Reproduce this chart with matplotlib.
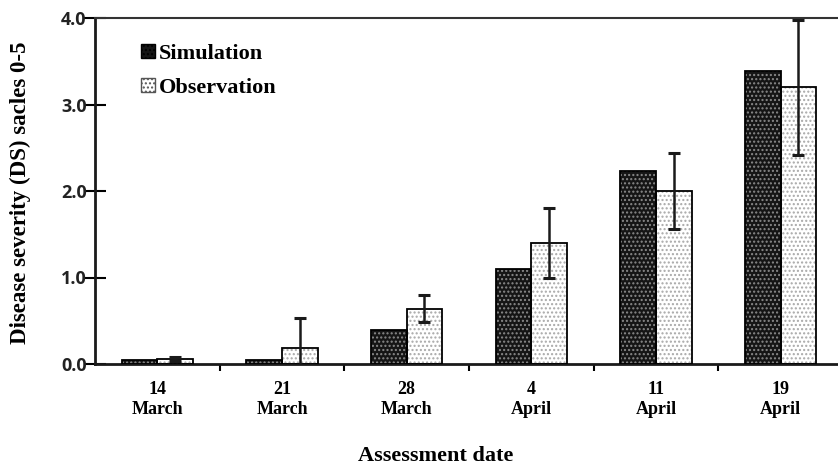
import matplotlib.pyplot as plt
import numpy as np
from matplotlib.patches import Patch

# Disease severity per assessment date
dates = ["14\nMarch", "21\nMarch", "28\nMarch", "4\nApril", "11\nApril", "19\nApril"]
simulation = [0.05, 0.05, 0.39, 1.10, 2.23, 3.39]
observation = [0.06, 0.18, 0.64, 1.40, 2.00, 3.20]
obs_err = [0.02, 0.35, 0.16, 0.40, 0.44, 0.78]

serif = ["Liberation Serif", "DejaVu Serif"]

fig = plt.figure(figsize=(8.38, 4.68), dpi=100)
ax = fig.add_axes([95 / 838, 1 - 364 / 468, 748 / 838, 346 / 468])

x = np.arange(len(dates))
w = 0.285

def hatched_bars(xs, vals, face, dots, hatch):
    ax.bar(xs, vals, w, color=face, edgecolor="none", zorder=2)
    ax.bar(xs, vals, w, color="none", edgecolor=dots, hatch=hatch, linewidth=0, zorder=3)
    ax.bar(xs, vals, w, color="none", edgecolor="black", linewidth=1.3, zorder=4)

plt.rcParams["hatch.linewidth"] = 1.0
hatched_bars(x - w / 2, simulation, "#151515", "#8a8a8a", "....")
hatched_bars(x + w / 2, observation, "white", "#a8a8a8", "....")
ax.errorbar(x + w / 2, observation, yerr=obs_err, fmt="none", ecolor="#1a1a1a",
            elinewidth=1.8, capsize=4, capthick=2.2, zorder=5)

ax.set_xlim(-0.5, 5.5)
ax.set_ylim(0, 4.0)
ax.set_yticks([0, 1, 2, 3, 4])
ax.set_yticklabels(["0.0", "1.0", "2.0", "3.0", "4.0"], fontfamily="Open Sans",
                   fontweight="bold", fontsize=13, color="#222")
ax.tick_params(axis="y", direction="inout", length=16, width=1.5, pad=-2)

ax.set_xticks(x)
ax.set_xticklabels(dates, fontfamily=serif, fontweight="bold", fontsize=13,
                   linespacing=1.25)
ax.tick_params(axis="x", length=0, pad=12)
ax.set_xticks(np.arange(0.5, 5.5, 1), minor=True)
ax.tick_params(axis="x", which="minor", direction="out", length=5, width=1.5)

for side in ("left", "bottom"):
    ax.spines[side].set_linewidth(2.0)
    ax.spines[side].set_color("#1a1a1a")
ax.spines["top"].set_linewidth(1.5)
ax.spines["top"].set_color("#333")
ax.spines["right"].set_visible(False)

fig.text(20 / 838, 1 - 193 / 468, "Disease severity (DS) sacles 0-5", fontfamily=serif,
         fontweight="bold", fontsize=16.5, rotation=90, ha="center", va="center")
fig.text(436 / 838, 7 / 468, "Assessment date", fontfamily=serif, fontweight="bold",
         fontsize=16, ha="center", va="baseline")

handles = [
    Patch(facecolor="#151515", edgecolor="black", hatch="....", label="Simulation"),
    Patch(facecolor="white", edgecolor="#555", hatch="....", label="Observation"),
]
ax.legend(handles=handles, loc="upper left", bbox_to_anchor=(0.05, 0.95),
          frameon=False, handlelength=0.6, handleheight=0.6, handletextpad=0.2,
          labelspacing=0.6, borderaxespad=0,
          prop={"family": serif, "weight": "bold", "size": 16})

fig.savefig("out.png", dpi=100)
